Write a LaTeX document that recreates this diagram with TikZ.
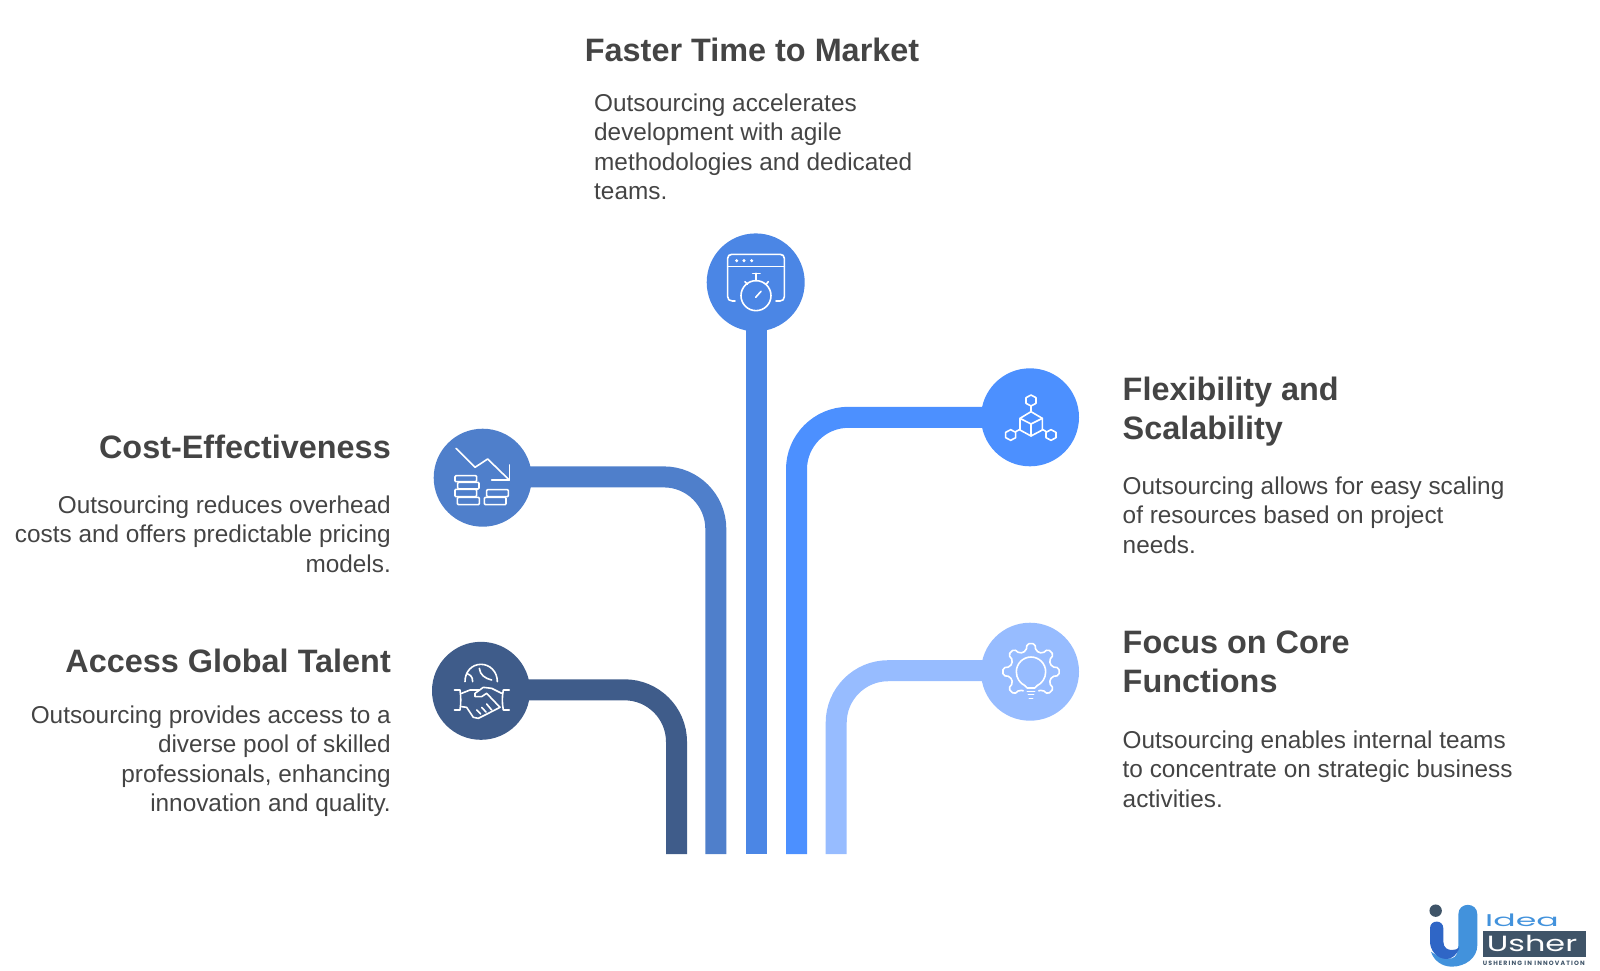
\documentclass[tikz,border=0pt]{standalone}
\usepackage{fontspec}
\setmainfont{Liberation Sans}
\newfontfamily\logofont{Poppins}
\definecolor{cGlobal}{HTML}{3F5C8A}
\definecolor{cCost}{HTML}{4F7FCB}
\definecolor{cTop}{HTML}{4B86E5}
\definecolor{cFlex}{HTML}{4C90FF}
\definecolor{cFocus}{HTML}{97BCFF}
\definecolor{txt}{HTML}{444444}
\definecolor{logoDark}{HTML}{3F5468}
\definecolor{logoBlue}{HTML}{4292DC}
\definecolor{logoDeep}{HTML}{2F66C6}
\tikzset{
  disc/.style={circle,minimum size=98pt,inner sep=0pt,fill=#1},
  bar/.style={line width=21pt,draw=#1,rounded corners=52pt},
  titletxt/.style={inner sep=0pt,text=txt,font=\fontsize{32.4}{38.8}\selectfont\bfseries},
  bodytxt/.style={inner sep=0pt,text=txt,font=\fontsize{24.35}{29.4}\selectfont},
  icon/.style={draw=white,line width=1.6pt,line cap=round,line join=round},
}
\begin{document}
\begin{tikzpicture}[x=1pt,y=-1pt]
\useasboundingbox (0,0) rectangle (1600,970);
% discs
\node[disc=cGlobal] (global) at (481,690.8) {};
\node[disc=cCost] (cost) at (482.7,477.7) {};
\node[disc=cTop] (top) at (755.7,282.4) {};
\node[disc=cFlex] (flex) at (1030,417.3) {};
\node[disc=cFocus] (focus) at (1030,671.7) {};
% bar ends
\coordinate (eGlobal) at (676.5,854);
\coordinate (eCost) at (715.8,854);
\coordinate (eTop) at (756.2,854);
\coordinate (eFlex) at (796.5,854);
\coordinate (eFocus) at (836.2,854);
% connectors
\draw[bar=cGlobal] ([yshift=1pt]global.center) -| (eGlobal);
\draw[bar=cCost] ([yshift=.8pt]cost.center) -| (eCost);
\draw[bar=cTop] (top.center -| eTop) -- (eTop);
\draw[bar=cFlex] (flex.center) -| (eFlex);
\draw[bar=cFocus] ([yshift=1pt]focus.center) -| (eFocus);
% texts
\node[titletxt,anchor=north west] (t1) at (584.7,38) {Faster Time to Market};
\node[bodytxt,anchor=north west,align=left] (b1) at (594,93.5) {Outsourcing accelerates\\development with agile\\methodologies and dedicated\\teams.};
\node[titletxt,anchor=north east] (t2) at (391,435) {Cost-Effectiveness};
\node[bodytxt,anchor=north east,align=right] (b2) at (391,495.5) {Outsourcing reduces overhead\\costs and offers predictable pricing\\models.};
\node[titletxt,anchor=north east] (t3) at (391,649) {Access Global Talent};
\node[bodytxt,anchor=north east,align=right] (b3) at (391,705.5) {Outsourcing provides access to a\\diverse pool of skilled\\professionals, enhancing\\innovation and quality.};
\node[titletxt,anchor=north west,align=left] (t4) at (1122.5,377) {Flexibility and\\Scalability};
\node[bodytxt,anchor=north west,align=left] (b4) at (1122.5,476.5) {Outsourcing allows for easy scaling\\of resources based on project\\needs.};
\node[titletxt,anchor=north west,align=left] (t5) at (1122.5,631) {Focus on Core\\Functions};
\node[bodytxt,anchor=north west,align=left] (b5) at (1122.5,730.5) {Outsourcing enables internal teams\\to concentrate on strategic business\\activities.};
% top icon
\begin{scope}[shift={(690,220)},x=.3333pt,y=-.3333pt,icon]
\draw (135,243) -- (127,243) .. controls (118,243) and (113,238) .. (113,230) -- (113,115) .. controls (113,108) and (118,103) .. (125,103) -- (271,103) .. controls (278,103) and (283,108) .. (283,115) -- (283,230) .. controls (283,238) and (278,243) .. (270,243) -- (258,243);
\draw (113,140) -- (283,140);
\fill[white] (140,122) circle[radius=1.7pt] (162,122) circle[radius=1.7pt] (185,122) circle[radius=1.7pt];
\draw (198,227) circle[radius=15pt];
\draw (198,160) -- (198,182);
\draw (188,160) -- (210,160);
\draw (165,185) -- (172,193);
\draw (235,185) -- (228,193);
\draw (197,232) -- (213,214);
\end{scope}
% cost icon
\begin{scope}[shift={(420,420)},x=.3333pt,y=-.3333pt,icon]
\draw (108,85) -- (165,142) -- (203,117) -- (268,180);
\draw (268,135) -- (268,180) -- (215,180);
\draw[rounded corners=1pt] (105,167) rectangle (170,185);
\draw[rounded corners=1pt] (113,187) rectangle (177,207);
\draw[rounded corners=1pt] (105,208) rectangle (170,230);
\draw[rounded corners=1pt] (112,232) rectangle (178,254);
\draw[rounded corners=1pt] (200,209) rectangle (265,230);
\draw[rounded corners=1pt] (193,232) rectangle (258,254);
\end{scope}
% global icon
\begin{scope}[shift={(420,630)},x=.3333pt,y=-.3333pt,icon]
\draw (135,155) .. controls (135,125) and (155,103) .. (183,103) .. controls (210,103) and (232,125) .. (232,155);
\draw (158,155) .. controls (158,138) and (150,135) .. (140,130);
\draw (178,115) .. controls (180,135) and (195,145) .. (215,150);
\draw (103,180) -- (120,180) .. controls (123,200) and (123,220) .. (120,240) -- (103,240);
\draw (268,180) -- (250,180) .. controls (246,200) and (246,220) .. (250,240) -- (268,240);
\draw (125,190) -- (150,180) -- (178,180);
\draw (245,190) -- (215,175) -- (190,172) -- (165,190) -- (165,200) -- (185,200) -- (200,190) -- (240,232);
\draw (125,230) -- (140,232) -- (160,262) -- (175,265) -- (205,250) -- (240,232);
\draw (170,240) -- (182,252);
\draw (185,232) -- (198,246);
\draw (200,222) -- (215,240);
\end{scope}
% flex icon
\begin{scope}[shift={(970,360)},x=.3333pt,y=-.3333pt,icon]
\draw (183,155) -- (217,175) -- (217,210) -- (183,228) -- (150,210) -- (150,175) -- cycle;
\draw (150,175) -- (183,192) -- (217,175);
\draw (183,192) -- (183,228);
\draw (183,105) -- (198,113) -- (198,130) -- (183,138) -- (168,130) -- (168,113) -- cycle;
\draw (183,138) -- (183,155);
\draw (122,209) -- (137,217) -- (137,233) -- (122,241) -- (107,233) -- (107,217) -- cycle;
\draw (137,215) -- (150,208);
\draw (243,209) -- (258,217) -- (258,233) -- (243,241) -- (228,233) -- (228,217) -- cycle;
\draw (229,215) -- (217,208);
\end{scope}
% focus icon
\begin{scope}[shift={(970,615)},x=.3333pt,y=-.3333pt,icon]
\begin{scope}[shift={(183,170)}]
\draw[rounded corners=2pt] (112:62)
  foreach \a in {135,180,225,270,315,360,405} {
    -- (\a-13:64) -- (\a-8:85) -- (\a+8:85) -- (\a+13:64)
  } -- (68:62);
\end{scope}
\draw (165,212) .. controls (150,205) and (139,190) .. (139,170) .. controls (139,146) and (159,126) .. (183,126) .. controls (207,126) and (227,146) .. (227,170) .. controls (227,190) and (216,205) .. (201,212);
\draw (165,212) -- (172,219) -- (194,219) -- (201,212);
\draw (172,229) -- (194,229);
\draw (175,239) -- (191,239);
\draw (178,250) -- (188,250);
\end{scope}
% logo
\begin{scope}[shift={(1380,870)},x=.3333pt,y=-.3333pt]
\fill[logoDark] (167,122) circle[radius=6.2pt];
\fill[logoBlue] (235,133) .. controls (235,95) and (292,95) .. (292,133) -- (292,225) .. controls (292,265) and (255,290) .. (215,290) .. controls (185,290) and (160,270) .. (153,245) .. controls (175,262) and (200,268) .. (215,265) .. controls (230,262) and (235,245) .. (235,225) -- cycle;
\fill[logoDeep] (150,175) .. controls (150,148) and (190,148) .. (190,175) -- (190,215) .. controls (190,235) and (205,240) .. (215,240) .. controls (225,240) and (232,238) .. (238,232) .. controls (232,255) and (215,267) .. (200,267) .. controls (170,267) and (150,240) .. (150,215) -- cycle;
\node[fill=logoDark,minimum width=103pt,minimum height=25.7pt,inner sep=0pt,anchor=north west] (lbox) at (308,183) {};
\node[anchor=west,inner sep=0pt,text=logoBlue] (lidea) at (315,150) {\logofont\fontsize{17}{17}\selectfont\scalebox{1.95}[1]{Idea}};
\node[anchor=west,inner sep=0pt,text=white] (lusher) at (320,221) {\logofont\fontsize{22}{22}\selectfont\scalebox{1.45}[1]{Usher}};
\node[anchor=west,inner sep=0pt,text=logoDark] (ltag) at (308,280) {\logofont\fontsize{6.2}{7}\selectfont\bfseries\addfontfeature{LetterSpace=18}USHERING IN INNOVATION};
\end{scope}
\end{tikzpicture}
\end{document}
